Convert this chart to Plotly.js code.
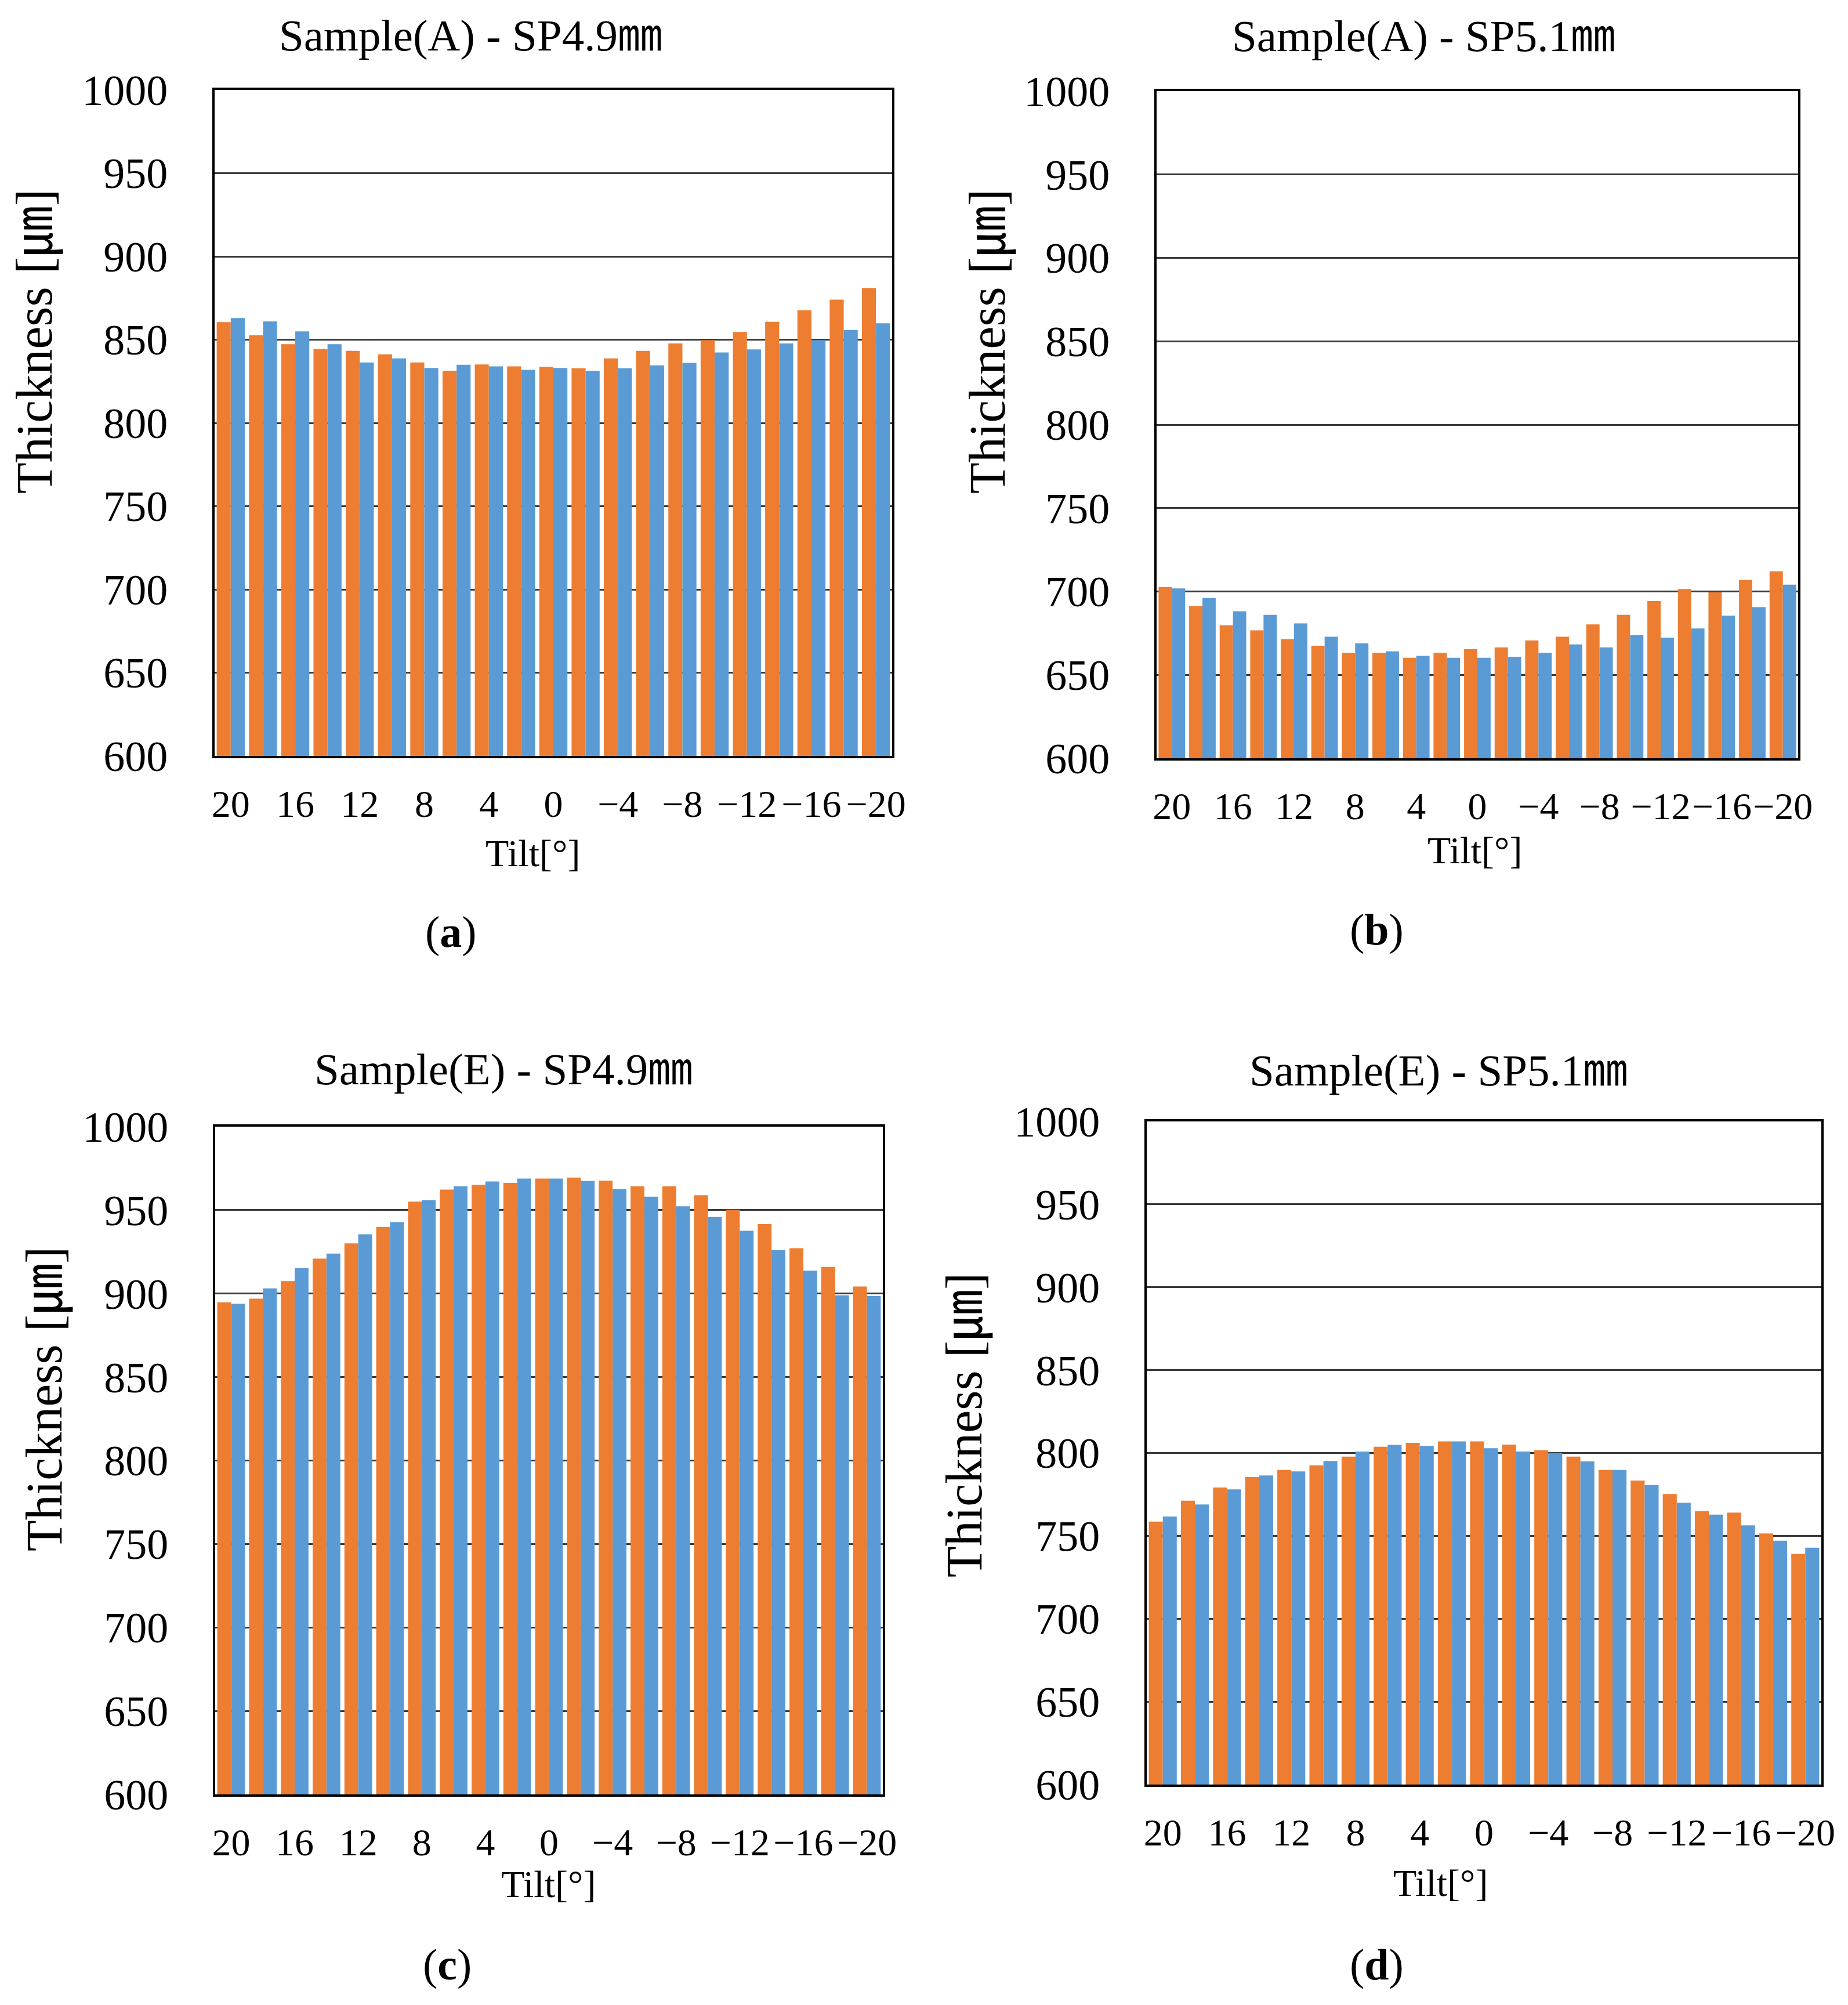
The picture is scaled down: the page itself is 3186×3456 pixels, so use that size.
<!DOCTYPE html>
<html>
<head>
<meta charset="utf-8">
<script src="https://cdn.plot.ly/plotly-3.0.1.min.js"></script>
<style>
  body { margin: 0; background: #fff; }
  #chart { width: 3186px; height: 3456px; }
</style>
</head>
<body>
<div id="chart"></div>
<script>
const W = 3186, H = 3456;

const tilt = [20, 18, 16, 14, 12, 10, 8, 6, 4, 2, 0, -2, -4, -6, -8, -10, -12, -14, -16, -18, -20];
const tickTilt = [20, 16, 12, 8, 4, 0, -4, -8, -12, -16, -20];

const aOrange = [860.5, 852.6, 847.3, 844.4, 843.3, 841.2, 836.3, 831.4, 835.1, 834, 833.7, 832.8, 838.8, 843.3, 847.7, 849.7, 854.6, 860.7, 867.7, 874, 881];
const aBlue   = [863, 861, 855, 847.3, 836.3, 838.8, 833, 834.9, 834, 831.9, 833, 831.4, 832.8, 834.6, 836.1, 842.3, 844.2, 847.7, 849.7, 855.8, 859.8];

const bOrange = [702.6, 691.2, 679.7, 676.7, 671.4, 667.5, 663.2, 663.2, 660.3, 663.2, 665.4, 666.4, 670.6, 672.9, 680.3, 686, 694.3, 701.5, 699.5, 706.9, 712.1];
const bBlue   = [701.8, 696.1, 688.1, 686, 680.9, 672.9, 668.9, 664.1, 661.4, 660.3, 660.3, 660.9, 663.2, 668.3, 666.4, 673.7, 672.3, 677.8, 685.5, 690.6, 704.1];

const cOrange = [894.8, 897, 907.5, 920.9, 930.1, 939.9, 955.1, 962.3, 965.2, 966.3, 968.9, 969.5, 967.7, 964.3, 964.3, 958.9, 950.2, 941.6, 927.2, 916, 904.3];
const cBlue   = [893.9, 903.1, 915.2, 924, 935.5, 942.8, 956, 964.3, 967.2, 968.9, 968.9, 967.5, 962.6, 958, 952.3, 945.9, 937.6, 926.1, 913.7, 899, 898.5];

const dOrange = [758.6, 771.2, 779.2, 785.5, 789.8, 792.6, 797.8, 803.8, 806.1, 807, 807, 805.1, 801.7, 797.8, 789.8, 783.4, 775.2, 764.9, 764, 751.4, 739.1];
const dBlue   = [761.7, 768.9, 778, 786.4, 788.9, 795.2, 800.9, 804.9, 804.3, 807, 802.9, 800.9, 800, 794.9, 789.8, 780.7, 770, 762.8, 756.3, 747.1, 742.9];

const titles = ['Sample(A) - SP4.9㎜', 'Sample(A) - SP5.1㎜', 'Sample(E) - SP4.9㎜', 'Sample(E) - SP5.1㎜'];
const panelLabels = ['a', 'b', 'c', 'd'];
const yTitle = 'Thickness [㎛]';
const xTitle = 'Tilt[°]';

const ORANGE = '#ED7D31', BLUE = '#5B9BD5';
const FONT = '"Liberation Serif", "Times New Roman", "Noto Sans CJK JP", serif';

// plot boxes in pixels: left, right, top, bottom + text anchors
const boxes = [
  { l: 370, r: 1538, t: 155, b: 1303, title: [811, 61], ytl: [60, 589], xtl: [918, 1470], lab: [777, 1606] },
  { l: 1994, r: 3100, t: 157, b: 1307, title: [2454, 62], ytl: [1703, 589], xtl: [2542, 1465], lab: [2373, 1602] },
  { l: 371, r: 1522, t: 1942, b: 3093, title: [868, 1843], ytl: [77, 2412], xtl: [945, 3247], lab: [771, 3386] },
  { l: 1977, r: 3140, t: 1933, b: 3076, title: [2480, 1845], ytl: [1663, 2457], xtl: [2483, 3245], lab: [2373, 3386] }
];

const series = [[aOrange, aBlue], [bOrange, bBlue], [cOrange, cBlue], [dOrange, dBlue]];
const cats = tilt.map(String);
const tickVals = tickTilt.map(String);
const tickText = tickTilt.map(v => v < 0 ? '−' + Math.abs(v) : String(v));

const px = x => x / W;
const py = y => 1 - y / H;

const data = [];
const layout = {
  width: W, height: H,
  margin: { l: 0, r: 0, t: 0, b: 0 },
  paper_bgcolor: '#fff', plot_bgcolor: '#fff',
  showlegend: false,
  barmode: 'group', bargap: 0.13, bargroupgap: 0,
  font: { family: FONT, color: '#000' },
  annotations: []
};

boxes.forEach((bx, i) => {
  const n = i === 0 ? '' : String(i + 1);
  const xa = 'x' + n, ya = 'y' + n;
  data.push({ type: 'bar', x: cats, y: series[i][0], xaxis: xa, yaxis: ya, marker: { color: ORANGE }, base: 0 });
  data.push({ type: 'bar', x: cats, y: series[i][1], xaxis: xa, yaxis: ya, marker: { color: BLUE }, base: 0 });

  layout['xaxis' + n] = {
    domain: [px(bx.l), px(bx.r)], anchor: ya, type: 'category',
    tickvals: tickVals, ticktext: tickText, ticks: '', ticklabelstandoff: 22,
    tickfont: { size: 66, family: FONT, color: '#000' },
    showline: true, linecolor: '#000', linewidth: 4, mirror: true,
    showgrid: false, zeroline: false, fixedrange: true
  };
  layout['yaxis' + n] = {
    domain: [py(bx.b), py(bx.t)], anchor: xa, range: [600, 1000], dtick: 50, tick0: 600,
    ticks: '', ticklabelstandoff: 62,
    tickfont: { size: 74, family: FONT, color: '#000' },
    showline: true, linecolor: '#000', linewidth: 4, mirror: true,
    showgrid: true, gridcolor: '#3a3a3a', gridwidth: 3, zeroline: false, fixedrange: true
  };

  const ann = (text, p, size, extra) => Object.assign({
    text: text, xref: 'paper', yref: 'paper', x: px(p[0]), y: py(p[1]),
    xanchor: 'center', yanchor: 'middle', showarrow: false,
    font: { size: size, family: FONT, color: '#000' }
  }, extra || {});

  layout.annotations.push(ann(titles[i], bx.title, 77));
  layout.annotations.push(ann(yTitle, bx.ytl, 88, { textangle: -90 }));
  layout.annotations.push(ann(xTitle, bx.xtl, 66));
  layout.annotations.push(ann('(<b>' + panelLabels[i] + '</b>)', bx.lab, 76));
});

Plotly.newPlot('chart', data, layout, { staticPlot: true });
</script>
</body>
</html>
